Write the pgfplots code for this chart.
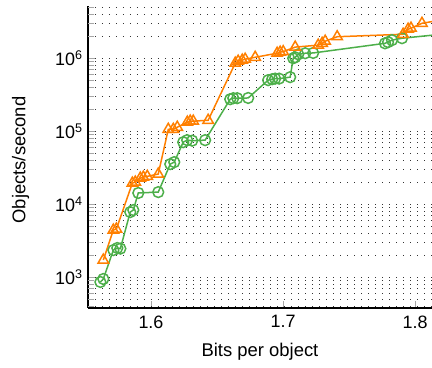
\documentclass[border=0pt]{standalone}
\usepackage{fontspec}
\setmainfont{Liberation Sans}
\usepackage{pgfplots}
\pgfplotsset{compat=1.18}
\definecolor{corange}{HTML}{FF7F00}
\definecolor{cgreen}{HTML}{4DAF4A}
\begin{document}
\begin{tikzpicture}
\begin{axis}[
  at={(0,0)}, anchor=south west,
  scale only axis, width=344bp, height=302bp,
  xmin=1.5523, xmax=1.8128,
  ymode=log, ymin=376, ymax=5.2e6,
  axis lines=left,
  axis line style={-, line width=1.6bp, black},
  xtick={1.6,1.7,1.8}, xticklabels={1.6,1.7,1.8},
  ytick={1e3,1e4,1e5,1e6},
  yticklabels={10\textsuperscript{3},10\textsuperscript{4},10\textsuperscript{5},10\textsuperscript{6}},
  extra y ticks={400,500,600,700,800,900,2e6,3e6,4e6,5e6},
  extra y tick labels={},
  extra y tick style={major tick length=6bp, ymajorgrids=true},
  minor x tick num=0,
  tick align=inside,
  major tick length=7bp, minor tick length=6bp,
  tick style={gray!70, line width=0.8bp},
  ymajorgrids, yminorgrids,
  major grid style={black!80, line width=0.9bp, dash pattern=on 0.9bp off 6.1bp},
  minor grid style={black!80, line width=0.9bp, dash pattern=on 0.9bp off 6.1bp},
  ticklabel style={font=\fontsize{18}{21}\selectfont},
  xlabel={Bits per object}, ylabel={Objects/second},
  label style={font=\fontsize{18.5}{22}\selectfont},
  xlabel style={at={(axis description cs:0.5,-0.146)}, anchor=center},
  ylabel style={at={(axis description cs:-0.196,0.49)}, anchor=center, rotate=0},
  xticklabel style={yshift=-4bp},
  yticklabel style={xshift=-2bp},
]
\addplot[color=cgreen, line width=1.5bp, mark=o, mark size=5.4bp, mark options={line width=1.5bp}] coordinates {
(1.5617,855) (1.5639,940) (1.5715,2340) (1.5745,2500) (1.5768,2450)
(1.5843,7770) (1.5866,8280) (1.5904,14200) (1.6055,14600)
(1.6146,35300) (1.6176,37600)
(1.6244,70600) (1.6274,75300) (1.6312,74000) (1.6410,75300)
(1.6600,274000) (1.6623,283000) (1.6653,283000) (1.6736,285000)
(1.6887,500000) (1.6918,516000) (1.6940,525000) (1.6970,525000) (1.7054,550000)
(1.7077,1.0e6) (1.7092,1.03e6) (1.7115,1.13e6) (1.7168,1.17e6) (1.7228,1.18e6)
(1.7772,1.60e6) (1.7795,1.66e6) (1.7825,1.77e6) (1.7901,1.88e6)
(1.8300,2.22e6)
};
\addplot[color=corange, line width=1.5bp, mark=triangle, mark size=6bp, mark options={line width=1.5bp}] coordinates {
(1.5639,1710) (1.5715,4400) (1.5738,4550)
(1.5859,19400) (1.5881,20000) (1.5919,22700) (1.5942,23400) (1.5972,24000) (1.6055,25800)
(1.6131,106000) (1.6169,106000) (1.6199,113000) (1.6275,133000) (1.6297,137000) (1.6320,137000) (1.6433,141000)
(1.6638,855000) (1.6660,911000) (1.6691,940000) (1.6713,969000) (1.6789,1.03e6)
(1.6955,1.17e6) (1.6978,1.21e6) (1.7001,1.23e6) (1.7092,1.42e6)
(1.7266,1.51e6) (1.7296,1.60e6) (1.7319,1.71e6) (1.7410,1.97e6)
(1.7909,2.13e6) (1.7947,2.50e6) (1.7969,2.58e6) (1.8052,3.01e6)
(1.8300,3.6e6)
};
\end{axis}
\pgfresetboundingbox
\path[use as bounding box] (-88bp,-60bp) rectangle (344bp,308bp);
\end{tikzpicture}
\end{document}
